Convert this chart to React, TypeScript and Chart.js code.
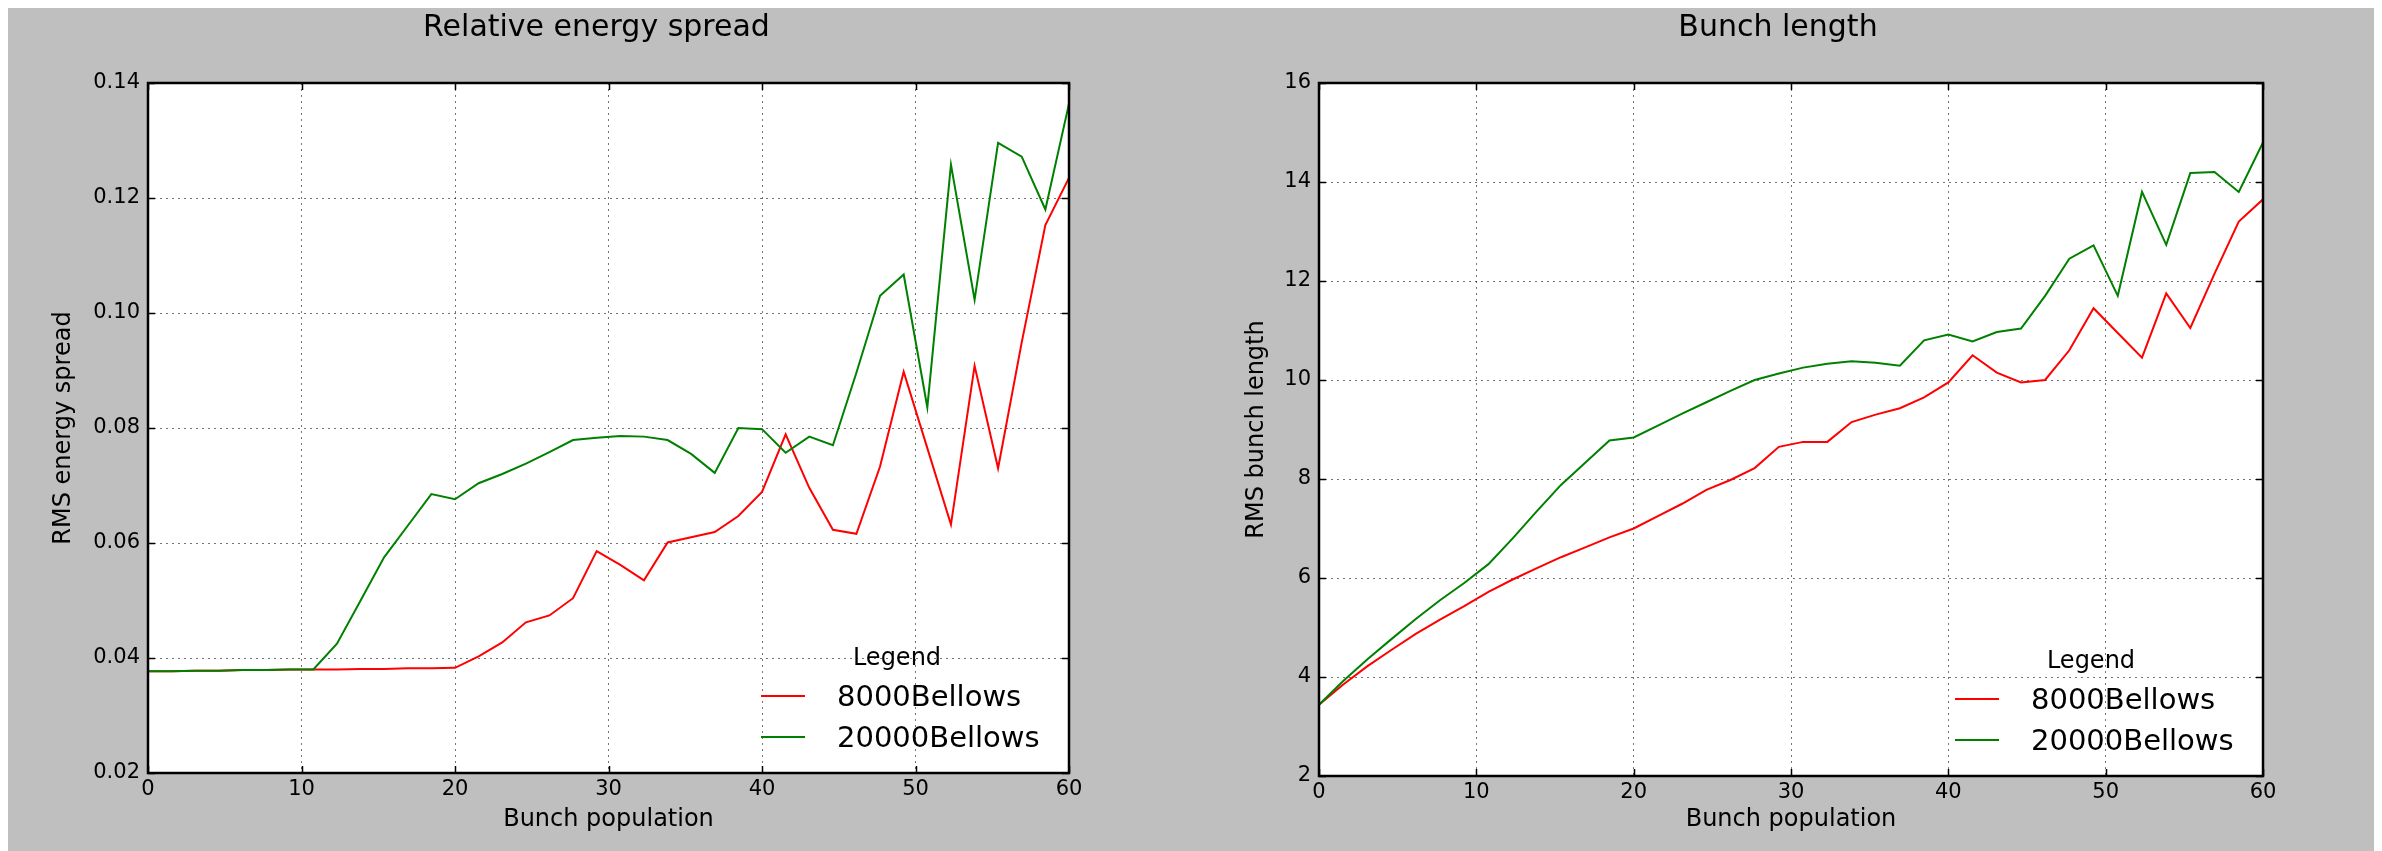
import React, { useEffect, useRef } from "react";
import { Chart, registerables } from "chart.js";

Chart.register(...registerables);

// ---------- data ----------
const bunchPopulation = [
  0, 1.54, 3.08, 4.62, 6.15, 7.69, 9.23, 10.77, 12.31, 13.85,
  15.38, 16.92, 18.46, 20.0, 21.54, 23.08, 24.62, 26.15, 27.69, 29.23,
  30.77, 32.31, 33.85, 35.38, 36.92, 38.46, 40.0, 41.54, 43.08, 44.62,
  46.15, 47.69, 49.23, 50.77, 52.31, 53.85, 55.38, 56.92, 58.46, 60.0,
];

const energySpread8000 = [
  0.0377, 0.0377, 0.0378, 0.0378, 0.0379, 0.0379, 0.038, 0.038, 0.038, 0.0381,
  0.0381, 0.0382, 0.0382, 0.0383, 0.0403, 0.0427, 0.0462, 0.0474, 0.0504, 0.0586,
  0.0562, 0.0535, 0.0601, 0.061, 0.0619, 0.0647, 0.0689, 0.0789, 0.0696, 0.0623,
  0.0616, 0.0733, 0.0898, 0.0765, 0.0632, 0.0908, 0.073, 0.0949, 0.1153, 0.1235,
];

const energySpread20000 = [
  0.0377, 0.0377, 0.0378, 0.0378, 0.0379, 0.0379, 0.038, 0.038, 0.0425, 0.05,
  0.0575, 0.063, 0.0685, 0.0676, 0.0704, 0.072, 0.0738, 0.0758, 0.0779, 0.0783,
  0.0786, 0.0785, 0.0779, 0.0755, 0.0722, 0.08, 0.0798, 0.0757, 0.0785, 0.077,
  0.0896, 0.103, 0.1067, 0.0836, 0.1258, 0.1023, 0.1296, 0.1272, 0.118, 0.1364,
];

const bunchLength8000 = [
  3.44, 3.85, 4.22, 4.55, 4.87, 5.16, 5.43, 5.72, 5.97, 6.2,
  6.42, 6.62, 6.82, 7.0, 7.25, 7.5, 7.78, 7.98, 8.22, 8.65,
  8.75, 8.75, 9.15, 9.3, 9.43, 9.65, 9.95, 10.5, 10.15, 9.95,
  10.0, 10.6, 11.45, 10.95, 10.45, 11.75, 11.05, 12.15, 13.2, 13.65,
];

const bunchLength20000 = [
  3.44, 3.92, 4.36, 4.77, 5.17, 5.55, 5.9, 6.28, 6.8, 7.35,
  7.88, 8.33, 8.78, 8.84, 9.08, 9.32, 9.55, 9.78, 10.0, 10.13,
  10.25, 10.33, 10.38, 10.35, 10.29, 10.8, 10.92, 10.78, 10.97, 11.04,
  11.7, 12.45, 12.72, 11.7, 13.8, 12.73, 14.18, 14.2, 13.8, 14.8,
];

const populationTicks = [0, 10, 20, 30, 40, 50, 60];
const energyTicks = [0.02, 0.04, 0.06, 0.08, 0.1, 0.12, 0.14];
const lengthTicks = [2, 4, 6, 8, 10, 12, 14, 16];

const seriesNames = ["8000Bellows", "20000Bellows"];
const seriesColors = ["#ff0000", "#008000"];
const legendTitle = "Legend";
const xAxisTitle = "Bunch population";

const FONT = "'DejaVu Sans', 'Liberation Sans', sans-serif";

// ---------- panel ----------
type PanelProps = {
  left: number;
  title: string;
  yTitle: string;
  yTicks: number[];
  yDecimals: number;
  series: number[][];
  yAxisWidth: number;
  xAxisHeight: number;
  padRight: number;
  yTitlePad: number;
  titleShift: number;
};

const CW = 1183;
const CH = 843;

function Panel(p: PanelProps) {
  const ref = useRef<HTMLCanvasElement | null>(null);

  useEffect(() => {
    if (!ref.current) return;

    const framePlugin = {
      id: "frameAndText",
      beforeDraw(chart: any) {
        const { ctx, chartArea: a } = chart;
        ctx.save();
        ctx.fillStyle = "#ffffff";
        ctx.fillRect(a.left, a.top, a.right - a.left, a.bottom - a.top);
        ctx.restore();
      },
      afterDraw(chart: any) {
        const { ctx, chartArea: a, scales } = chart;
        ctx.save();
        // inward ticks
        ctx.strokeStyle = "#000";
        ctx.lineWidth = 1.5;
        const tl = 7;
        ctx.beginPath();
        for (const v of populationTicks) {
          const x = Math.round(scales.x.getPixelForValue(v)) + 0.5;
          ctx.moveTo(x, a.bottom);
          ctx.lineTo(x, a.bottom - tl);
          ctx.moveTo(x, a.top);
          ctx.lineTo(x, a.top + tl);
        }
        for (const v of p.yTicks) {
          const y = Math.round(scales.y.getPixelForValue(v)) + 0.5;
          ctx.moveTo(a.left, y);
          ctx.lineTo(a.left + tl, y);
          ctx.moveTo(a.right, y);
          ctx.lineTo(a.right - tl, y);
        }
        ctx.stroke();
        // frame
        ctx.lineWidth = 2.5;
        ctx.strokeRect(a.left, a.top, a.right - a.left, a.bottom - a.top);

        // title
        ctx.fillStyle = "#000";
        ctx.font = `30px ${FONT}`;
        ctx.textAlign = "center";
        ctx.textBaseline = "alphabetic";
        ctx.fillText(p.title, (a.left + a.right) / 2 + p.titleShift, 28);

        // legend (lower right, no frame)
        ctx.font = `24px ${FONT}`;
        ctx.fillText(legendTitle, a.right - 172, a.bottom - 108);
        ctx.textAlign = "left";
        ctx.font = `29px ${FONT}`;
        const rows = [a.bottom - 77, a.bottom - 36];
        seriesNames.forEach((name, i) => {
          const y = rows[i];
          ctx.strokeStyle = seriesColors[i];
          ctx.lineWidth = 2;
          ctx.beginPath();
          ctx.moveTo(a.right - 308, y);
          ctx.lineTo(a.right - 264, y);
          ctx.stroke();
          ctx.fillStyle = "#000";
          ctx.fillText(name, a.right - 232, y + 10);
        });
        ctx.restore();
      },
    };

    const chart = new Chart(ref.current, {
      type: "line",
      data: {
        datasets: p.series.map((vals, i) => ({
          label: seriesNames[i],
          data: bunchPopulation.map((x, j) => ({ x, y: vals[j] })),
          borderColor: seriesColors[i],
          backgroundColor: seriesColors[i],
          borderWidth: 2,
          pointRadius: 0,
          tension: 0,
          fill: false,
          order: i === 0 ? 2 : 1,
        })),
      },
      options: {
        responsive: false,
        animation: false,
        devicePixelRatio: 1,
        layout: { padding: { top: 75, left: 0, right: p.padRight, bottom: 0 } },
        plugins: {
          legend: { display: false },
          title: { display: false },
          tooltip: { enabled: false },
        },
        scales: {
          x: {
            type: "linear",
            min: 0,
            max: 60,
            afterBuildTicks: (s: any) => {
              s.ticks = populationTicks.map((v) => ({ value: v }));
            },
            afterFit: (s: any) => {
              s.height = p.xAxisHeight;
            },
            ticks: {
              color: "#000",
              font: { family: FONT, size: 21 },
              padding: 4,
              maxRotation: 0,
              autoSkip: false,
              callback: (v: any) => String(v),
            },
            grid: {
              color: "rgba(0,0,0,0.55)",
              lineWidth: 1,
              drawTicks: false,
            },
            border: { display: false, dash: [2, 4] },
            title: {
              display: true,
              text: xAxisTitle,
              color: "#000",
              font: { family: FONT, size: 24 },
              padding: { top: 0, bottom: 16.6 },
            },
          },
          y: {
            type: "linear",
            min: p.yTicks[0],
            max: p.yTicks[p.yTicks.length - 1],
            afterBuildTicks: (s: any) => {
              s.ticks = p.yTicks.map((v) => ({ value: v }));
            },
            afterFit: (s: any) => {
              s.width = p.yAxisWidth;
            },
            ticks: {
              color: "#000",
              font: { family: FONT, size: 21 },
              padding: 8,
              autoSkip: false,
              callback: (v: any) => Number(v).toFixed(p.yDecimals),
            },
            grid: {
              color: "rgba(0,0,0,0.55)",
              lineWidth: 1,
              drawTicks: false,
            },
            border: { display: false, dash: [2, 4] },
            title: {
              display: true,
              text: p.yTitle,
              color: "#000",
              font: { family: FONT, size: 24 },
              padding: { top: p.yTitlePad, bottom: 0 },
            },
          },
        },
      },
      plugins: [framePlugin],
    } as any);

    return () => chart.destroy();
  }, []);

  return (
    <canvas
      ref={ref}
      width={CW}
      height={CH}
      style={{ position: "absolute", left: p.left, top: 0, width: CW, height: CH }}
    />
  );
}

export default function App() {
  return (
    <div
      style={{
        position: "relative",
        width: 2366,
        height: 843,
        background: "#bfbfbf",
        overflow: "hidden",
      }}
    >
      <Panel
        left={0}
        title="Relative energy spread"
        yTitle="RMS energy spread"
        yTicks={energyTicks}
        yDecimals={2}
        series={[energySpread8000, energySpread20000]}
        yAxisWidth={140}
        xAxisHeight={78}
        padRight={122}
        yTitlePad={41.6}
        titleShift={-12}
      />
      <Panel
        left={CW}
        title="Bunch length"
        yTitle="RMS bunch length"
        yTicks={lengthTicks}
        yDecimals={0}
        series={[bunchLength8000, bunchLength20000]}
        yAxisWidth={128}
        xAxisHeight={75}
        padRight={111}
        yTitlePad={51.6}
        titleShift={-13}
      />
    </div>
  );
}
